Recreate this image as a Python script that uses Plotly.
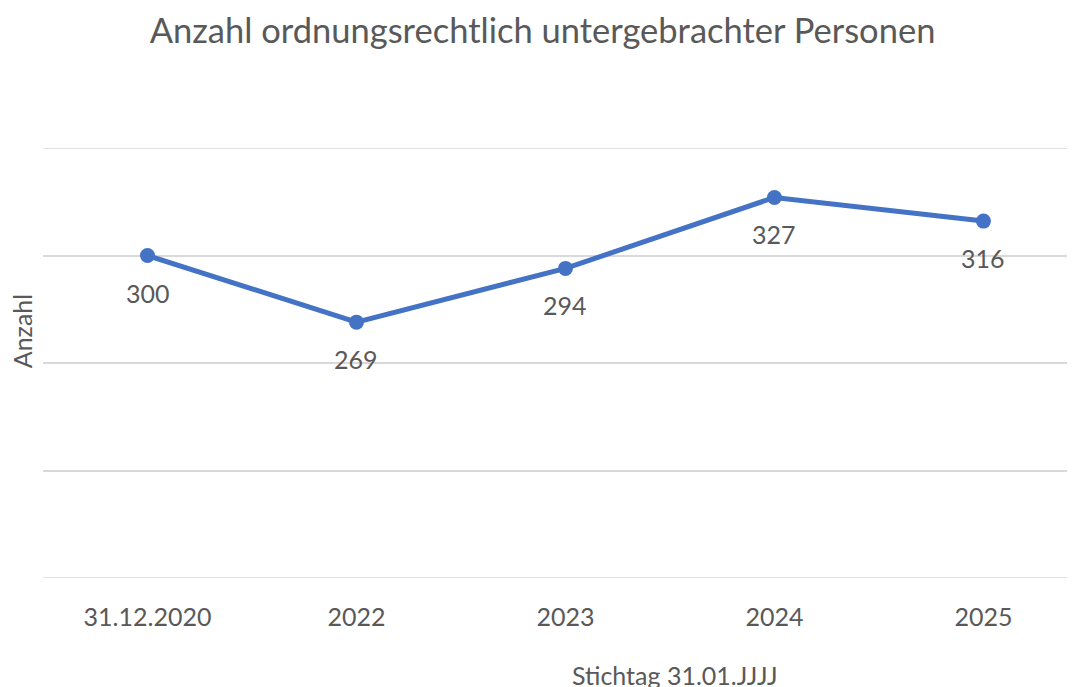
import plotly.graph_objects as go

# Stichtage und Anzahl der untergebrachten Personen
stichtage = ["31.12.2020", "2022", "2023", "2024", "2025"]
anzahl = [300, 269, 294, 327, 316]

TEXT = "#595959"
BLUE = "#4472C4"
FONT = "Lato, 'Open Sans', sans-serif"

fig = go.Figure()
fig.add_trace(go.Scatter(
    x=stichtage, y=anzahl,
    mode="lines+markers",
    line=dict(color=BLUE, width=5),
    marker=dict(color=BLUE, size=15),
    cliponaxis=False,
    hoverinfo="x+y",
))

# data labels below the points (x as category index)
for i, a in enumerate(anzahl):
    fig.add_annotation(x=i, y=a, text=str(a), showarrow=False, yshift=-37,
                       font=dict(size=25, color=TEXT, family=FONT))

# page body adds an 8px offset, so the figure is 8px smaller than the window
fig.update_layout(
    width=1067, height=679,
    margin=dict(l=35, r=0, t=140, b=109),
    paper_bgcolor="white", plot_bgcolor="white",
    showlegend=False,
    font=dict(family=FONT, color=TEXT),
    title=dict(text="Anzahl ordnungsrechtlich untergebrachter Personen",
               x=0.501, xanchor="center", y=0.966, yanchor="middle",
               font=dict(size=34.5, color=TEXT, family=FONT)),
)
fig.update_xaxes(
    type="category", range=[-0.5, 4.438],
    showgrid=False, zeroline=False, showline=False,
    tickfont=dict(size=25, color=TEXT), ticks="", ticklabelstandoff=22,
)
fig.update_yaxes(
    range=[150, 350], dtick=50, showticklabels=False,
    gridcolor="#D9D9D9", gridwidth=1.5, zeroline=False, showline=False,
)
fig.add_annotation(text="Anzahl", xref="paper", yref="paper", x=-0.0203, y=0.574,
                   textangle=-90, showarrow=False, xanchor="center", yanchor="middle",
                   font=dict(size=25, color=TEXT, family=FONT))
fig.add_annotation(text="Stichtag 31.01.JJJJ", xref="paper", yref="paper", x=0.612, y=-0.2256,
                   showarrow=False, xanchor="center", yanchor="middle",
                   font=dict(size=25, color=TEXT, family=FONT))
# top and bottom gridlines at the range edges
fig.add_hline(y=150, line=dict(color="#D9D9D9", width=1.5))
fig.add_hline(y=350, line=dict(color="#D9D9D9", width=1.5))

fig.write_html("out.html")
